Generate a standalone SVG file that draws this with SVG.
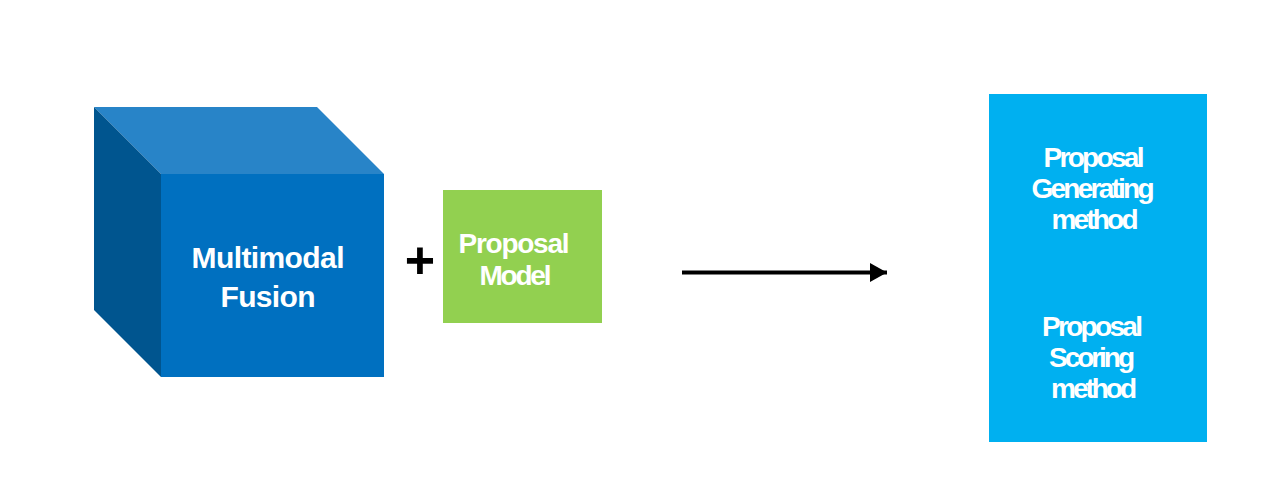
<svg xmlns="http://www.w3.org/2000/svg" width="1282" height="499" viewBox="0 0 1282 499">
  <defs>
    <style>
      .lbl { font-family: "Liberation Sans", Arial, sans-serif; font-weight: bold; fill: #ffffff; text-anchor: middle; }
      .conn { stroke: #000000; stroke-width: 4; fill: none; }
    </style>
    <marker id="arrowhead" markerUnits="userSpaceOnUse" markerWidth="18" markerHeight="19" refX="17" refY="9.5" orient="auto">
      <path d="M0,0 L17,9.5 L0,19 Z" fill="#000000"/>
    </marker>
  </defs>
  <rect x="0" y="0" width="1282" height="499" fill="#ffffff"/>

  <g id="node-multimodal-fusion">
    <polygon points="94,107 317,107 384,174 161,174" fill="#2884C8"/>
    <polygon points="94,107 161,174 161,377 94,310" fill="#00558F"/>
    <rect x="161" y="174" width="223" height="203" fill="#0070C0"/>
    <text class="lbl" x="268" y="267.5" font-size="30" textLength="153" lengthAdjust="spacing">Multimodal</text>
    <text class="lbl" x="268" y="306.5" font-size="30" textLength="95" lengthAdjust="spacing">Fusion</text>
  </g>

  <g id="node-plus">
    <text x="420" y="278" font-family="Liberation Sans, Arial, sans-serif" font-weight="bold" font-size="52" text-anchor="middle" fill="#000000">+</text>
  </g>

  <g id="node-proposal-model">
    <rect x="443" y="190" width="159" height="133" fill="#92D050"/>
    <text class="lbl" x="514" y="252.5" font-size="28" textLength="111" lengthAdjust="spacing">Proposal</text>
    <text class="lbl" x="515.5" y="284.5" font-size="28" textLength="72" lengthAdjust="spacing">Model</text>
  </g>

  <g id="node-proposal-methods">
    <rect x="989" y="94" width="218" height="348" fill="#00B0F0"/>
    <text class="lbl" x="1094" y="166.5" font-size="28" textLength="101" lengthAdjust="spacing">Proposal</text>
    <text class="lbl" x="1093" y="197.5" font-size="28" textLength="123" lengthAdjust="spacing">Generating</text>
    <text class="lbl" x="1095" y="228.5" font-size="28" textLength="87" lengthAdjust="spacing">method</text>
    <text class="lbl" x="1092.5" y="336" font-size="28" textLength="101" lengthAdjust="spacing">Proposal</text>
    <text class="lbl" x="1092" y="367" font-size="28" textLength="86" lengthAdjust="spacing">Scoring</text>
    <text class="lbl" x="1094" y="398" font-size="28" textLength="86" lengthAdjust="spacing">method</text>
  </g>

  <g id="connectors">
    <line class="conn" x1="682" y1="272.5" x2="887" y2="272.5" marker-end="url(#arrowhead)"/>
  </g>
</svg>
